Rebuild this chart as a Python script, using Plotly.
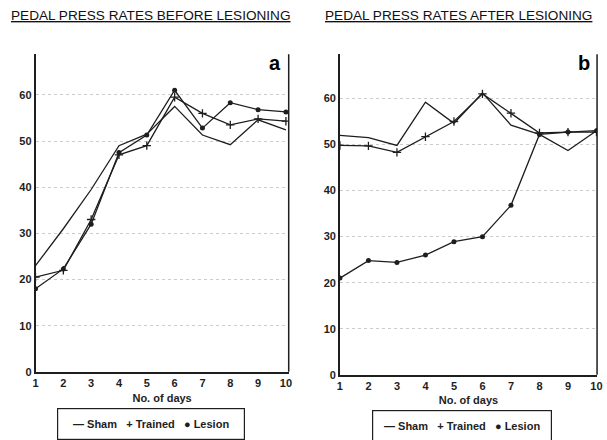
import plotly.graph_objects as go

days = [1, 2, 3, 4, 5, 6, 7, 8, 9, 10]

# Panel a: before lesioning
before_sham = [23.0, 31.0, 39.5, 49.0, 51.5, 57.5, 51.3, 49.2, 54.6, 52.4]
before_trained = [20.5, 22.0, 33.0, 47.0, 49.0, 59.5, 56.0, 53.5, 54.8, 54.3]
before_lesion = [18.0, 22.3, 32.0, 47.5, 51.3, 61.0, 52.8, 58.3, 56.8, 56.3]

# Panel b: after lesioning
after_sham = [52.0, 51.5, 49.8, 59.2, 54.6, 61.2, 54.2, 52.2, 48.7, 53.0]
after_trained = [49.8, 49.7, 48.3, 51.7, 55.0, 61.0, 56.8, 52.5, 52.7, 52.7]
after_lesion = [21.0, 24.8, 24.4, 26.0, 28.9, 30.0, 36.8, 52.2, 52.7, 53.0]

y_ticks = [0, 10, 20, 30, 40, 50, 60, 70]
series_names = ["Sham", "Trained", "Lesion"]

INK = "#1e1e1e"
W, H = 607, 440
FONT = "Liberation Sans, Arial, sans-serif"

def px(x):
    return x / W

def py(y):
    return 1 - y / H

fig = go.Figure()

styles = [
    dict(mode="lines", line=dict(color=INK, width=1.3)),
    dict(mode="lines+markers", line=dict(color=INK, width=1.3),
         marker=dict(symbol="cross-thin", size=6, line=dict(color=INK, width=1.3))),
    dict(mode="lines+markers", line=dict(color=INK, width=1.3),
         marker=dict(symbol="circle", size=5, color=INK)),
]

for name, vals, st in zip(series_names, [before_sham, before_trained, before_lesion], styles):
    fig.add_trace(go.Scatter(x=days, y=vals, name=name, xaxis="x", yaxis="y",
                             showlegend=False, **st))
for name, vals, st in zip(series_names, [after_sham, after_trained, after_lesion], styles):
    fig.add_trace(go.Scatter(x=days, y=vals, name=name, xaxis="x2", yaxis="y2",
                             showlegend=False, **st))

tickfont = dict(family=FONT, size=11, color=INK)
common_x = dict(tickmode="array", tickvals=days, ticktext=[f"<b>{d}</b>" for d in days],
                showgrid=False, zeroline=False, showline=True, linecolor=INK, linewidth=1.5,
                ticks="", tickfont=tickfont,
                title=dict(text="<b>No. of days</b>", font=dict(family=FONT, size=11, color=INK),
                           standoff=6))
common_y = dict(tickmode="array", tickvals=y_ticks, ticktext=[f"<b>{v}</b>" for v in y_ticks],
                showgrid=True, gridcolor="#cccccc", griddash="dot", gridwidth=1,
                zeroline=False, showline=True, linecolor=INK, linewidth=1.5,
                ticks="", tickfont=tickfont)

fig.update_layout(
    width=W, height=H,
    margin=dict(l=0, r=0, t=0, b=0),
    paper_bgcolor="white", plot_bgcolor="white",
    xaxis=dict(domain=[px(33), px(290)], range=[1, 10.1], anchor="y", **common_x),
    yaxis=dict(domain=[py(377), py(55)], range=[0, 68.8], anchor="x", **common_y),
    xaxis2=dict(domain=[px(342), px(603)], range=[1, 10.02], anchor="y2", **common_x),
    yaxis2=dict(domain=[py(380), py(55)], range=[0, 69.6], anchor="x2", **common_y),
    showlegend=False,
)

# right-hand border lines of each panel
fig.add_shape(type="line", xref="x domain", yref="y domain", x0=1, x1=1, y0=0, y1=1,
              line=dict(color=INK, width=1.5))
fig.add_shape(type="line", xref="x2 domain", yref="y2 domain", x0=1, x1=1, y0=0, y1=1,
              line=dict(color=INK, width=1.5))

title_font = dict(family=FONT, size=13.6, color="#111111")
fig.add_annotation(text="<u>PEDAL PRESS RATES BEFORE LESIONING</u>", x=px(150), y=py(16),
                   xref="paper", yref="paper", showarrow=False, font=title_font,
                   xanchor="center", yanchor="middle")
fig.add_annotation(text="<u>PEDAL PRESS RATES AFTER LESIONING</u>", x=px(462), y=py(16),
                   xref="paper", yref="paper", showarrow=False, font=title_font,
                   xanchor="center", yanchor="middle")

letter_font = dict(family=FONT, size=20, color="black")
fig.add_annotation(text="<b>a</b>", x=px(284), y=py(64), xref="paper", yref="paper",
                   showarrow=False, font=letter_font, xanchor="right", yanchor="middle")
fig.add_annotation(text="<b>b</b>", x=px(598), y=py(64), xref="paper", yref="paper",
                   showarrow=False, font=letter_font, xanchor="right", yanchor="middle")

# legend boxes (compact, as in the original)
legend_text = ("<b>\u2014 " + series_names[0] + "   + " + series_names[1]
               + "   \u25CF " + series_names[2] + "</b>")
legend_font = dict(family=FONT, size=11, color=INK)
fig.add_annotation(text=legend_text, x=px(55), y=py(414), xref="paper", yref="paper",
                   xanchor="left", yanchor="top", showarrow=False, font=legend_font,
                   width=186, height=30, valign="middle", align="center",
                   bordercolor=INK, borderwidth=1.2, borderpad=0, bgcolor="white")
fig.add_annotation(text=legend_text, x=px(375), y=py(416), xref="paper", yref="paper",
                   xanchor="left", yanchor="top", showarrow=False, font=legend_font,
                   width=178, height=30, valign="middle", align="center",
                   bordercolor=INK, borderwidth=1.2, borderpad=0, bgcolor="white")

fig.write_html("out.html")
